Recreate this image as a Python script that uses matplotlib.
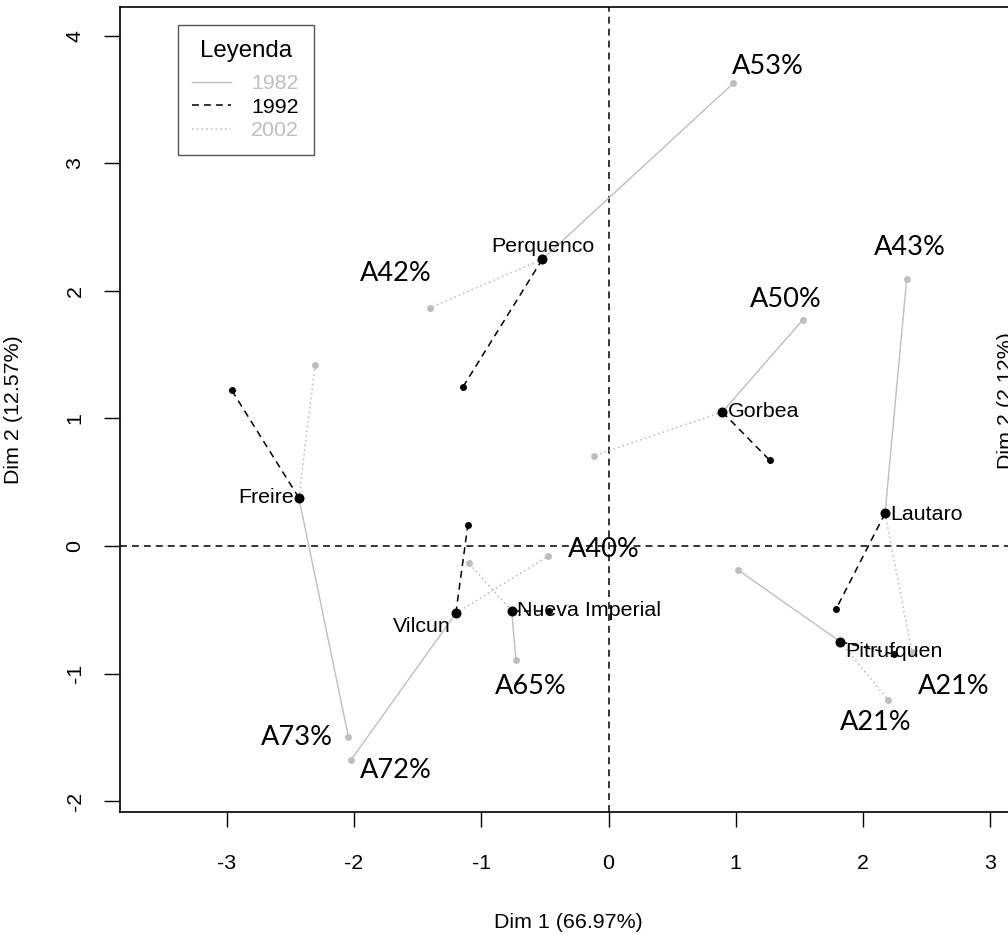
import matplotlib
matplotlib.use("Agg")
import matplotlib.pyplot as plt
from matplotlib.lines import Line2D

plt.rcParams['font.family'] = ['Liberation Sans', 'DejaVu Sans']
plt.rcParams['lines.scale_dashes'] = False

# ---------------- data ----------------
towns = ["Perquenco", "Gorbea", "Freire", "Lautaro", "Vilcun", "Nueva Imperial", "Pitrufquen"]
mean_x = [-0.52, 0.894, -2.434, 2.173, -1.200, -0.761, 1.822]
mean_y = [2.249, 1.051, 0.379, 0.256, -0.528, -0.507, -0.751]

x_1982 = [0.981, 1.526, -2.044, 2.343, -2.026, -0.727, 1.015]
y_1982 = [3.629, 1.773, -1.496, 2.094, -1.681, -0.894, -0.186]

x_1992 = [-1.143, 1.267, -2.961, 1.788, -1.106, -0.465, 2.246]
y_1992 = [1.249, 0.672, 1.221, -0.494, 0.162, -0.507, -0.849]

x_2002 = [-1.400, -0.112, -2.306, 2.383, -0.478, -1.098, 2.199]
y_2002 = [1.869, 0.708, 1.417, -0.829, -0.081, -0.136, -1.208]

years = ["1982", "1992", "2002"]
x_ticks = [-3, -2, -1, 0, 1, 2, 3]
y_ticks = [-2, -1, 0, 1, 2, 3, 4]
x_label = "Dim 1 (66.97%)"
y_label = "Dim 2 (12.57%)"
legend_title = "Leyenda"

# percentage annotations: (town index, year, text)
pct_town = [0, 0, 3, 1, 4, 5, 2, 4, 3, 6]
pct_year = ["1982", "2002", "1982", "1982", "2002", "1982", "1982", "1982", "2002", "2002"]
pct_text = ["A53%", "A42%", "A43%", "A50%", "A40%", "A65%", "A73%", "A72%", "A21%", "A21%"]

# ---------------- styles ----------------
GRAY = "#BEBEBE"
label_off = {  # offset pixels, ha
    "Perquenco": ((1, 13), "center"),
    "Gorbea": ((6, 0), "left"),
    "Freire": ((-5, 0), "right"),
    "Lautaro": ((5, -1), "left"),
    "Vilcun": ((-5, -13), "right"),
    "Nueva Imperial": ((5, 0), "left"),
    "Pitrufquen": ((5, -10), "left"),
}
pct_off = [(34, 17), (-35, 34), (3, 31), (-17, 20), (56, 7), (15, -26),
           (-52, -1), (45, -10), (42, -35), (-13, -22)]

fig = plt.figure(figsize=(10.08, 9.35), dpi=100)
L, R, B, T = 120, 1016, 812, 7
W, H = 1008, 935
ax = fig.add_axes([L / W, (H - B) / H, (R - L) / W, (B - T) / H])

ax.set_xlim(-3.839, 3.202)
ax.set_ylim(-2.086, 4.227)

ax.axhline(0, color="black", lw=1.1, ls=(0, (5, 3.6)), zorder=1)
ax.axvline(0, color="black", lw=1.1, ls=(0, (5, 3.6)), zorder=1)

yr_x = {"1982": x_1982, "1992": x_1992, "2002": x_2002}
yr_y = {"1982": y_1982, "1992": y_1992, "2002": y_2002}
yr_style = {
    "1982": dict(color=GRAY, lw=1.0, ls="-"),
    "1992": dict(color="black", lw=1.1, ls=(0, (5, 3.6))),
    "2002": dict(color=GRAY, lw=1.1, ls=(0, (1.2, 2.2))),
}
yr_pt = {"1982": GRAY, "1992": "black", "2002": GRAY}

for yr in years:
    for i in range(len(towns)):
        ax.plot([mean_x[i], yr_x[yr][i]], [mean_y[i], yr_y[yr][i]], zorder=2, **yr_style[yr])
for yr in years:
    ax.plot(yr_x[yr], yr_y[yr], ls="none", marker="o", ms=5.0, color=yr_pt[yr], mec="none", zorder=3)
ax.plot(mean_x, mean_y, ls="none", marker="o", ms=7.2, color="black", mec="none", zorder=4)

for i, t in enumerate(towns):
    off, ha = label_off[t]
    ax.annotate(t, (mean_x[i], mean_y[i]), xytext=off, textcoords="offset pixels",
                ha=ha, va="center", fontsize=15.4, color="black", zorder=5)

for k in range(len(pct_text)):
    i = pct_town[k]
    yr = pct_year[k]
    ax.annotate(pct_text[k], (yr_x[yr][i], yr_y[yr][i]), xytext=pct_off[k],
                textcoords="offset pixels", ha="center", va="center",
                fontsize=19.5, family="Lato", color="black", zorder=6)

ax.set_xticks(x_ticks)
ax.set_yticks(y_ticks)
ax.set_xticklabels([str(v) for v in x_ticks])
ax.set_yticklabels([str(v) for v in y_ticks], rotation=90, va="center")
ax.tick_params(axis="x", length=10.5, width=1.0, pad=19.5, labelsize=15.4)
ax.tick_params(axis="y", length=11.5, width=1.0, pad=14, labelsize=15.4)
for s in ax.spines.values():
    s.set_linewidth(1.2)

fig.text((L + R) / 2 / W, 1 - 922 / H, x_label, ha="center", va="center", fontsize=15.4)
fig.text(14 / W, 1 - 410 / H, y_label, ha="center", va="center", rotation=90, fontsize=15.4)
fig.text(1007 / W, 1 - 401 / H, "Dim 2 (2.12%)", ha="center", va="center", rotation=90, fontsize=15.4)

handles = [Line2D([], [], **yr_style[yr]) for yr in years]
leg = ax.legend(handles, years, title=legend_title, loc="upper left",
                bbox_to_anchor=(0.0644, 0.9776), fontsize=15.4, title_fontsize=17.3,
                frameon=True, fancybox=False, framealpha=1, edgecolor="#555555",
                handlelength=1.8, handletextpad=0.95, labelspacing=0.21,
                borderpad=0.68, borderaxespad=0)
leg._legend_box.sep = 9.0
leg.get_frame().set_linewidth(1.0)
for txt, yr in zip(leg.get_texts(), years):
    txt.set_color(yr_pt[yr])

fig.savefig("out.png", dpi=100)
